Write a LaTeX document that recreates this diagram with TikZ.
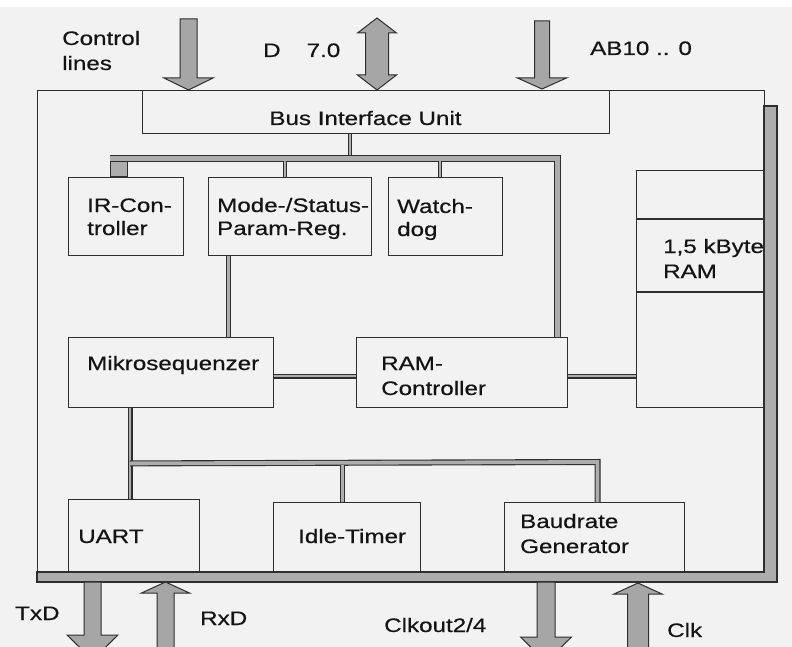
\documentclass[tikz,border=0pt]{standalone}
\usepackage{fontspec}
\newfontfamily\diagfont[FakeStretch=1.24,FakeBold=0.5]{Liberation Sans}
\usetikzlibrary{calc}
\newcommand\fatarrow[6]{\draw[fatstyle] ({#1-#5},#2) -- ({#1+#5},#2) -- ({#1+#5},#3) -- ({#1+#6},#3) -- (#1,#4) -- ({#1-#6},#3) -- ({#1-#5},#3) -- cycle;}
\begin{document}
\begin{tikzpicture}[x=1pt,y=-1pt,
  blk/.style={draw=black!82, line width=1.4pt, anchor=north west, inner sep=0pt},
  lbl/.style={anchor=base west, inner sep=0pt, text=black!92, font=\diagfont\fontsize{19.5}{24}\selectfont},
  bus/.style={draw=black!82, line width=1.1pt, double=black!32, double distance=#1},
  bus/.default=2.3pt,
  fatstyle/.style={draw=black!82, line width=1pt, fill=black!35, line join=miter},
  bandstyle/.style={draw=black!82, line width=1.1pt, fill=black!32}]
\useasboundingbox (0,0) rectangle (792,647);
\clip (0,0) rectangle (792,647);
\fill[black!5] (0,0) rectangle (792,647);
\fill[white] (0,0) rectangle (792,7);

% shadow band (right and bottom)
\draw[bandstyle] (764,106) -- (777,106) -- (777,582) -- (37,582) -- (37,572) -- (764,572) -- cycle;

% outer frame and blocks
\node[blk, minimum width=727pt, minimum height=482pt] (chip) at (37,90) {};
\node[blk, minimum width=467pt, minimum height=43pt] (biu) at (142,90) {};
\node[blk, minimum width=115pt, minimum height=78pt] (irc) at (68,177) {};
\node[blk, minimum width=163pt, minimum height=78pt] (mode) at (208,177) {};
\node[blk, minimum width=114pt, minimum height=78pt] (wd) at (388,177) {};
\node[blk, minimum width=128pt, minimum height=237pt] (ram) at (636,170) {};
\node[blk, minimum width=205pt, minimum height=70pt] (mseq) at (68,337) {};
\node[blk, minimum width=211pt, minimum height=70pt] (ramc) at (356,337) {};
\node[blk, minimum width=131pt, minimum height=73pt] (uart) at (68,499) {};
\node[blk, minimum width=147pt, minimum height=70pt] (idle) at (273,502) {};
\node[blk, minimum width=180pt, minimum height=70pt] (baud) at (504,502) {};
\draw[draw=black!82, line width=1.4pt] ($(ram.north west)+(0,49)$) -- ($(ram.north east)+(0,49)$);
\draw[draw=black!82, line width=1.4pt] ($(ram.north west)+(0,122)$) -- ($(ram.north east)+(0,122)$);

% internal buses
\draw[bus] ($(biu.south west)+(208,0)$) -- ++(0,24);
\draw[bus=4.2pt] ($(irc.north west)+(42,-18.5)$) -- ($(ramc.north east)+(-11,-178.5)$) -- ($(ramc.north east)+(-11,0)$);
\draw[draw=black!82, line width=1pt, fill=black!32] ($(irc.north west)+(42,0)$) rectangle ($(irc.north west)+(59,-15)$);
\draw[bus] ($(mode.north west)+(77,0)$) -- ++(0,-16);
\draw[bus] ($(wd.north west)+(52,0)$) -- ++(0,-16);
\draw[bus=2.8pt] ($(mode.south west)+(20.5,0)$) -- ($(mseq.north west)+(160.5,0)$);
\draw[bus=2.8pt] ($(mseq.north east)+(0,39)$) -- ($(ramc.north west)+(0,39)$);
\draw[bus=2.8pt] ($(ramc.north east)+(0,39)$) -- ($(ram.north west)+(0,206)$);
\draw[bus=2.8pt] ($(mseq.south west)+(62,0)$) -- ($(uart.north west)+(62,0)$);
\draw[bus=3.8pt] ($(mseq.south west)+(62,55)$) -- ($(baud.north west)+(93.5,-40)$) -- ($(baud.north west)+(93.5,0)$);
\draw[bus=2.8pt] ($(idle.north west)+(69.5,0)$) -- ++(0,-37);

% external block arrows
\fatarrow{188.5}{19}{78}{90}{8.5}{24.5}
\fatarrow{542}{21}{78}{89}{7.5}{24.5}
\draw[fatstyle] (377,18) -- (396.5,33) -- (388.5,33) -- (388.5,75) -- (396.5,75) -- (377,90) -- (357.5,75) -- (365.5,75) -- (365.5,33) -- (357.5,33) -- cycle;
\fatarrow{92.5}{582}{635}{660}{8.5}{25.5}
\fatarrow{165.5}{660}{593}{582}{8.5}{24}
\fatarrow{546}{582}{637}{662}{9}{25.5}
\fatarrow{638}{660}{594}{583}{10.5}{24}

% labels
\node[lbl] (lctl1) at (62,45) {Control};
\node[lbl] (lctl2) at (62,70) {lines};
\node[lbl] (ld) at (263,57) {D\hspace{26pt}7.0};
\node[lbl] (lab) at (590,55) {AB10 .. 0};
\node[lbl, anchor=base] (lbiu) at (365.5,125) {Bus Interface Unit};
\node[lbl] (lirc1) at (87,212) {IR-Con-};
\node[lbl] (lirc2) at (87,235) {troller};
\node[lbl] (lmode1) at (217,212) {Mode-/Status-};
\node[lbl] (lmode2) at (217,235) {Param-Reg.};
\node[lbl] (lwd1) at (397,213) {Watch-};
\node[lbl] (lwd2) at (397,236) {dog};
\node[lbl] (lram1) at (663,253) {1,5 kByte};
\node[lbl] (lram2) at (663,278) {RAM};
\node[lbl] (lmseq) at (87,370) {Mikrosequenzer};
\node[lbl] (lramc1) at (381,370) {RAM-};
\node[lbl] (lramc2) at (381,395) {Controller};
\node[lbl] (luart) at (78,543) {UART};
\node[lbl] (lidle) at (298,543) {Idle-Timer};
\node[lbl] (lbaud1) at (520,528) {Baudrate};
\node[lbl] (lbaud2) at (520,553) {Generator};
\node[lbl] (ltxd) at (15,620) {TxD};
\node[lbl] (lrxd) at (200,625) {RxD};
\node[lbl] (lclko) at (384,632) {Clkout2/4};
\node[lbl] (lclk) at (667,637) {Clk};
\end{tikzpicture}
\end{document}
